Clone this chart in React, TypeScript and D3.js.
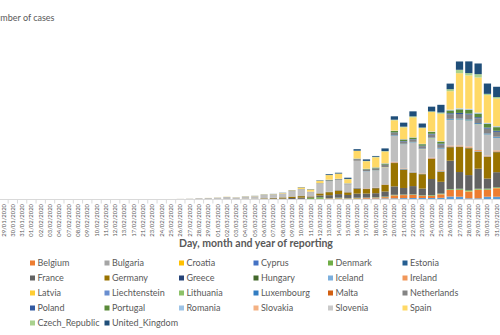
import React from 'react';
import * as d3 from 'd3';

const dates = [
  '29/01/2020','30/01/2020','31/01/2020','01/02/2020','02/02/2020','03/02/2020','04/02/2020','07/02/2020','08/02/2020','09/02/2020',
  '10/02/2020','11/02/2020','12/02/2020','13/02/2020','17/02/2020','21/02/2020','23/02/2020','24/02/2020','25/02/2020','26/02/2020',
  '27/02/2020','28/02/2020','29/02/2020','01/03/2020','02/03/2020','03/03/2020','04/03/2020','05/03/2020','06/03/2020','07/03/2020',
  '08/03/2020','09/03/2020','10/03/2020','11/03/2020','12/03/2020','13/03/2020','14/03/2020','15/03/2020','16/03/2020','17/03/2020',
  '18/03/2020','19/03/2020','20/03/2020','21/03/2020','22/03/2020','23/03/2020','24/03/2020','25/03/2020','26/03/2020','27/03/2020',
  '28/03/2020','29/03/2020','30/03/2020','31/03/2020',
];

// stacking order (bottom -> top)
const seriesNames = [
  'Austria','Belgium','Bulgaria','Croatia','Cyprus','Denmark','Estonia','France','Germany','Greece','Hungary','Iceland','Ireland',
  'Italy','Latvia','Liechtenstein','Lithuania','Luxembourg','Malta','Netherlands','Poland','Portugal','Romania','Slovakia','Slovenia',
  'Spain','Czech_Republic','United_Kingdom',
];
const seriesColors = [
  '#5B9BD5','#ED7D31','#A5A5A5','#FFC000','#4472C4','#70AD47','#255E91','#636363','#997300','#264478','#43682B','#7CAFDD','#F1975A',
  '#BFBFBF','#FFCD33','#698ED0','#8CC168','#327DC2','#D26012','#848484','#335AA1','#5A8A39','#9DC3E6','#F4B183','#C9C9C9',
  '#FFD966','#A9D18E','#1F4E79',
];
const legendNames = [
  'Belgium','Bulgaria','Croatia','Cyprus','Denmark','Estonia',
  'France','Germany','Greece','Hungary','Iceland','Ireland',
  'Latvia','Liechtenstein','Lithuania','Luxembourg','Malta','Netherlands',
  'Poland','Portugal','Romania','Slovakia','Slovenia','Spain',
  'Czech_Republic','United_Kingdom',
];

const Austria = [0,0,0,0,0,0,0,0,0,0,0,0,0,0,0,0,0, 0,2,0,1,0,0,5,4,8,6,12,14,25, 25,27,51,52,60,115,151,159,125,200,250,275, 300,350,375,375,375,425,750,700,300,300,700,700];
const Belgium = [0,0,0,0,0,0,1,0,0,0,0,0,0,0,0,0,0, 0,0,0,0,0,0,0,1,6,5,10,50,59, 31,39,75,50,117,125,125,100,150,200,200,300, 700,750,750,500,500,825,1625,1675,1650,2075,1675,2100];
const Bulgaria = [0,0,0,0,0,0,0,0,0,0,0,0,0,0,0,0,0, 0,0,0,0,0,0,0,0,0,0,0,0,0, 4,0,2,0,1,16,8,10,10,16,11,11, 18,14,16,24,17,24,22,22,23,30,12,13];
const Croatia = [0,0,0,0,0,0,0,0,0,0,0,0,0,0,0,0,0, 0,1,2,0,0,2,1,1,2,0,0,1,1, 0,1,1,0,5,6,6,11,11,9,16,24, 44,29,48,48,52,76,40,35,95,71,67,77];
const Cyprus = [0,0,0,0,0,0,0,0,0,0,0,0,0,0,0,0,0, 0,0,0,0,0,0,0,0,0,0,0,0,0, 0,0,0,2,0,4,8,12,7,13,6,9, 15,8,20,11,17,21,8,26,18,16,35,0];
const Denmark = [0,0,0,0,0,0,0,0,0,0,0,0,0,0,0,0,0, 0,0,0,0,0,1,0,0,3,5,10,2,2, 4,13,35,250,375,60,130,60,100,47,72,100, 75,80,73,80,137,100,150,200,232,160,211,150];
const Estonia = [0,0,0,0,0,0,0,0,0,0,0,0,0,0,0,0,0, 0,0,0,0,0,0,0,0,0,1,0,0,0, 5,1,3,0,7,11,52,36,66,0,20,33, 30,25,23,17,25,27,34,34,36,48,30,36];
const France = [1,0,1,0,0,0,0,0,5,0,0,0,0,0,0,0,0, 0,2,2,20,40,60,50,90,60,80,70,90,190, 200,300,300,200,450,750,875,750,1000,1000,1000,1250, 2100,1625,2050,1675,4000,2925,7075,4175,3750,5000,2500,3750];
const Germany = [1,0,1,1,0,2,2,2,0,0,0,2,0,0,0,0,0, 0,2,10,20,30,60,80,30,50,90,70,120,120, 250,325,375,200,500,750,875,625,1250,1125,1250,1650, 5825,4575,3325,3575,5000,2500,3350,6250,6675,4175,5425,5000];
const Greece = [0,0,0,0,0,0,0,0,0,0,0,0,0,0,0,0,0, 0,0,1,2,1,0,3,0,0,0,2,22,14, 0,28,11,16,9,8,73,38,97,57,56,23, 31,83,35,26,71,48,53,41,43,71,42,63];
const Hungary = [0,0,0,0,0,0,0,0,0,0,0,0,0,0,0,0,0, 0,0,0,0,0,0,0,0,0,0,2,0,3, 2,2,3,4,3,6,3,2,8,14,11,15, 12,18,18,36,19,39,35,32,58,43,35,40];
const Iceland = [0,0,0,0,0,0,0,0,0,0,0,0,0,0,0,0,0, 0,0,0,0,1,0,2,3,5,10,16,8,10, 5,5,19,14,18,39,17,27,37,25,19,80, 81,79,95,61,20,78,89,65,67,73,57,48];
const Ireland = [0,0,0,0,0,0,0,0,0,0,0,0,0,0,0,0,0, 0,0,0,0,0,0,1,0,1,4,1,7,4, 6,2,10,10,9,27,20,40,39,91,69,74, 191,126,102,121,219,204,235,255,302,294,200,295];
const Italy = [0,0,2,0,0,0,0,0,1,0,0,0,0,0,0,17,62, 70,120,150,170,250,240,300,500,350,470,590,770,780, 875,1325,1625,1000,2325,2650,2550,1875,6750,4250,4250,4175, 6500,6000,7300,6000,4800,5400,6400,6400,6400,6400,5200,3100];
const Latvia = [0,0,0,0,0,0,0,0,0,0,0,0,0,0,0,0,0, 0,0,0,0,0,0,0,0,1,0,0,0,0, 1,0,7,1,7,8,0,4,18,0,26,51, 12,28,13,41,17,24,24,23,41,25,42,29];
const Liechtenstein = [0,0,0,0,0,0,0,0,0,0,0,0,0,0,0,0,0, 0,0,0,0,0,0,0,0,0,0,1,0,0, 0,0,0,0,0,3,0,4,0,0,7,10, 0,13,0,19,5,5,2,0,5,0,6,2];
const Lithuania = [0,0,0,0,0,0,0,0,0,0,0,0,0,0,0,0,0, 0,0,0,0,0,1,0,0,0,0,0,0,0, 0,0,1,1,0,3,2,2,3,11,13,19, 20,20,42,25,92,19,65,82,75,58,24,43];
const Luxembourg = [0,0,0,0,0,0,0,0,0,0,0,0,0,0,0,0,0, 0,0,0,0,0,0,1,0,0,0,0,0,2, 1,1,2,0,0,19,12,17,10,60,59,20, 135,125,125,125,125,150,200,200,250,250,250,250];
const Malta = [0,0,0,0,0,0,0,0,0,0,0,0,0,0,0,0,0, 0,0,0,0,0,0,0,0,0,0,0,0,3, 0,0,2,1,0,6,0,9,12,6,10,8, 5,5,10,17,17,19,10,6,5,17,7,14];
const Netherlands = [0,0,0,0,0,0,0,0,0,0,0,0,0,0,0,0,0, 0,0,0,0,1,1,5,8,14,14,44,46,60, 77,60,75,100,125,200,150,125,375,375,375,500, 550,550,550,550,750,850,1150,1150,1200,1200,1200,1200];
const Poland = [0,0,0,0,0,0,0,0,0,0,0,0,0,0,0,0,0, 0,0,0,0,0,0,0,0,0,0,1,4,0, 6,5,1,14,5,17,30,16,36,27,61,87, 125,125,125,125,175,200,250,275,275,275,275,275];
const Portugal = [0,0,0,0,0,0,0,0,0,0,0,0,0,0,0,0,0, 0,0,0,0,0,0,0,0,2,2,4,5,8, 9,9,11,12,19,75,50,57,86,117,194,250, 375,375,375,375,450,500,700,900,900,900,900,900];
const Romania = [0,0,0,0,0,0,0,0,0,0,0,0,0,0,0,0,0, 0,1,0,0,2,0,0,0,1,0,1,3,3, 2,6,6,10,13,20,16,38,16,19,29,61, 50,50,50,50,75,100,125,200,200,200,200,200];
const Slovakia = [0,0,0,0,0,0,0,0,0,0,0,0,0,0,0,0,0, 0,0,0,0,0,0,0,0,0,0,0,1,2, 2,2,0,4,11,2,11,17,9,9,25,27, 14,41,7,19,31,12,10,10,25,25,25,25];
const Slovenia = [0,0,0,0,0,0,0,0,0,0,0,0,0,0,0,0,0, 0,0,0,0,0,0,0,0,0,0,1,6,5, 4,6,18,23,40,45,31,42,34,22,20,30, 25,25,25,25,50,50,75,75,50,50,50,50];
const Spain = [0,0,0,1,0,0,0,0,0,0,1,0,0,0,0,0,0, 2,4,8,10,15,30,40,50,40,60,60,80,60, 125,125,375,550,575,1125,1250,1000,1875,1875,2500,2925, 2575,2925,5000,3925,4825,6825,4600,8750,8350,8750,6925,6900];
const Czech_Republic = [0,0,0,0,0,0,0,0,0,0,0,0,0,0,0,0,0, 0,0,0,0,0,0,3,0,0,2,3,4,7, 12,6,9,17,31,24,44,73,84,85,135,90, 140,170,235,150,170,300,500,850,575,825,325,350];
const United_Kingdom = [0,0,2,0,0,0,0,0,1,0,4,1,0,0,0,0,0, 4,0,0,0,3,3,12,4,12,34,30,48,43, 50,60,75,75,100,200,200,300,375,375,200,675, 850,1000,1250,1000,1175,1925,1400,2075,2925,2675,2575,2575];

const seriesValues: Record<string, number[]> = {
  Austria, Belgium, Bulgaria, Croatia, Cyprus, Denmark, Estonia, France, Germany, Greece, Hungary, Iceland, Ireland,
  Italy, Latvia, Liechtenstein, Lithuania, Luxembourg, Malta, Netherlands, Poland, Portugal, Romania, Slovakia, Slovenia,
  Spain, Czech_Republic, United_Kingdom,
};

const yTitle = 'Number of cases';
const xTitle = 'Day, month and year of reporting';

const W = 500;
const H = 335;
const FONT = 'Lato, "Open Sans", sans-serif';

export default function App() {
  const x = d3.scaleBand<string>().domain(dates).range([-1.15, 501.4]).paddingInner(0.22).paddingOuter(0.11);
  const y = d3.scaleLinear().domain([0, 40000]).range([199.5, 39.5]);
  const color = d3.scaleOrdinal<string, string>().domain(seriesNames).range(seriesColors);

  const rows = dates.map((d, i) => {
    const r: Record<string, number | string> = { date: d };
    seriesNames.forEach((n) => { r[n] = seriesValues[n][i]; });
    return r;
  });
  const stacked = d3.stack<Record<string, number | string>>().keys(seriesNames)(rows as any);
  const step = x.step();
  const baseY = y(0);

  return (
    <svg width={W} height={H} style={{ position: 'absolute', left: 0, top: 0, background: '#fff' }} fontFamily={FONT}>
      <rect x={0} y={0} width={W} height={H} fill="#fff" />
      <text x={-11.5} y={21} fontSize={9} fill="#595959">{yTitle}</text>
      {stacked.map((layer) => (
        <g key={layer.key} fill={color(layer.key)}>
          {layer.map((p, i) => {
            const h = y(p[0]) - y(p[1]);
            if (h <= 0) return null;
            return <rect key={i} x={x(dates[i])} y={y(p[1])} width={x.bandwidth()} height={h} />;
          })}
        </g>
      ))}
      <line x1={-2} x2={502} y1={baseY} y2={baseY} stroke="#D9D9D9" strokeWidth={1} />
      {dates.map((d, i) => {
        const bx = (x(d) as number) - (step - x.bandwidth()) / 2;
        return <line key={'t' + i} x1={bx} x2={bx} y1={baseY} y2={baseY + 4} stroke="#D9D9D9" strokeWidth={1} />;
      })}
      {dates.map((d) => {
        const cx = (x(d) as number) + x.bandwidth() / 2 + 2;
        return (
          <text key={'l' + d} transform={`translate(${cx},204) rotate(-90)`} textAnchor="end" fontSize={5.9} fill="#595959">{d}</text>
        );
      })}
      <text x={256} y={247} textAnchor="middle" fontSize={10.5} fontWeight="bold" fill="#595959">{xTitle}</text>
      {legendNames.map((n, k) => {
        const col = k % 6;
        const row = Math.floor(k / 6);
        const lx = 30 + col * 74.5;
        const ly = 263 + row * 15;
        return (
          <g key={n}>
            <rect x={lx} y={ly - 2.5} width={5} height={5} fill={color(n)} />
            <text x={lx + 7.5} y={ly + 3} fontSize={9} fill="#595959">{n}</text>
          </g>
        );
      })}
    </svg>
  );
}
